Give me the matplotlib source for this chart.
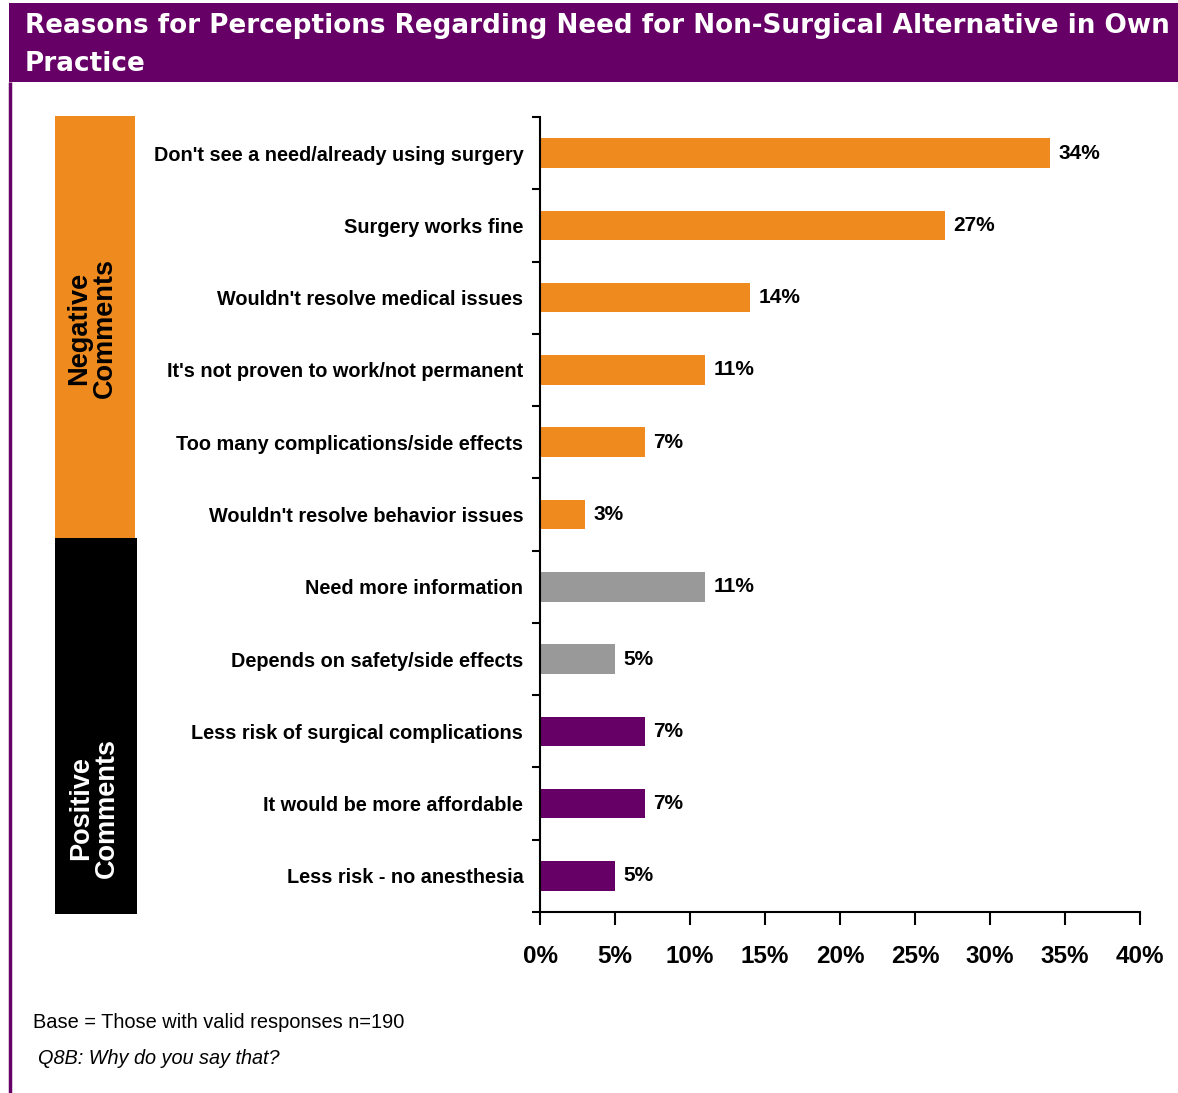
import matplotlib
matplotlib.use("Agg")
import matplotlib.pyplot as plt
from matplotlib.patches import Rectangle
from matplotlib.ticker import FuncFormatter

W, H = 1178, 1093

PURPLE = "#660066"
ORANGE = "#EE8A1E"
GREY = "#999999"

title_lines = ["Reasons for Perceptions Regarding Need for Non-Surgical Alternative in Own",
               "Practice"]
reasons = [
    "Don't see a need/already using surgery",
    "Surgery works fine",
    "Wouldn't resolve medical issues",
    "It's not proven to work/not permanent",
    "Too many complications/side effects",
    "Wouldn't resolve behavior issues",
    "Need more information",
    "Depends on safety/side effects",
    "Less risk of surgical complications",
    "It would be more affordable",
    "Less risk - no anesthesia",
]
percents = [34, 27, 14, 11, 7, 3, 11, 5, 7, 7, 5]
groups = ["neg"] * 6 + ["neutral"] * 2 + ["pos"] * 3
group_colors = {"neg": ORANGE, "neutral": GREY, "pos": PURPLE}
xticks = [0, 5, 10, 15, 20, 25, 30, 35, 40]

plt.rcParams["font.family"] = ["Liberation Sans", "DejaVu Sans"]

fig = plt.figure(figsize=(W / 100, H / 100), dpi=100)


def px(x0, y0, x1, y1):
    # pixel box (top-left origin) -> figure fraction rect
    return [x0 / W, 1 - y1 / H, (x1 - x0) / W, (y1 - y0) / H]


# header band and left rule
bg = fig.add_axes([0, 0, 1, 1])
bg.set_xlim(0, W)
bg.set_ylim(H, 0)
bg.axis("off")
bg.add_patch(Rectangle((9, 3), W - 9, 79, color=PURPLE, lw=0))
bg.plot([10, 10], [82, H], color=PURPLE, lw=2.5, solid_capstyle="butt")

t1 = bg.text(25, 33, title_lines[0], color="white", fontsize=22, fontweight="bold",
             family="DejaVu Sans", va="baseline")
t2 = bg.text(25, 71, title_lines[1], color="white", fontsize=22, fontweight="bold",
             family="DejaVu Sans", va="baseline")
# shrink the title so the first line fits inside the band
renderer = fig.canvas.get_renderer()
w1 = t1.get_window_extent(renderer).width
size = 22 * min(1.0, 1143 / w1)
t1.set_fontsize(size)
t2.set_fontsize(size)

# group boxes
bg.add_patch(Rectangle((55, 116), 80, 422, color=ORANGE, lw=0))
bg.add_patch(Rectangle((55, 538), 82, 376, color="black", lw=0))
bg.text(92, 328, "Negative\nComments", rotation=90, ha="center", va="center",
        multialignment="center", fontsize=19.5, fontweight="bold", color="black",
        linespacing=1.0)
bg.text(94, 808, "Positive\nComments", rotation=90, ha="center", va="center",
        multialignment="center", fontsize=19.5, fontweight="bold", color="white",
        linespacing=1.0)

# footnotes
bg.text(33, 1022, "Base = Those with valid responses n=190", fontsize=14.4, va="center")
bg.text(38, 1059, "Q8B: Why do you say that?", fontsize=14.3, style="italic", va="center")

ax = fig.add_axes(px(540, 117, 1140, 912))
n = len(reasons)
ypos = list(range(n))
colors = [group_colors[g] for g in groups]
ax.barh(ypos, percents, height=0.41, color=colors, zorder=2)
ax.set_ylim(n - 0.5, -0.5)
ax.set_xlim(0, 40)

for y, v in zip(ypos, percents):
    ax.annotate(f"{v}%", (v, y), xytext=(6, 0), textcoords="offset points",
                va="center", ha="left", fontsize=15, fontweight="bold")

ax.set_yticks(ypos)
ax.set_yticklabels(reasons, fontsize=14.3, fontweight="bold")
ax.set_yticks([i - 0.5 for i in range(n + 1)], minor=True)
ax.tick_params(axis="y", which="major", length=0, pad=12)
ax.tick_params(axis="y", which="minor", length=6, width=1.5, direction="out")

ax.set_xticks(xticks)
ax.xaxis.set_major_formatter(FuncFormatter(lambda v, p: f"{v:.0f}%"))
ax.tick_params(axis="x", length=9, width=1.5, direction="out", pad=15,
               labelsize=17.5)
for lab in ax.get_xticklabels():
    lab.set_fontweight("bold")

for s in ["top", "right"]:
    ax.spines[s].set_visible(False)
for s in ["left", "bottom"]:
    ax.spines[s].set_linewidth(1.5)

fig.savefig("out.png", dpi=100)
